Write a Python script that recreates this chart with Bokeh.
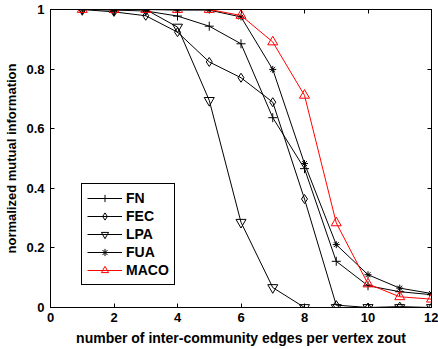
from bokeh.plotting import figure
from bokeh.models import (LinearAxis, Range1d, Legend, LegendItem, FixedTicker,
                          NumeralTickFormatter)
from bokeh.embed import file_html
from bokeh.resources import INLINE

# ---- data ----
zout = [1, 2, 3, 4, 5, 6, 7, 8, 9, 10, 11, 12]
fn   = [1.0, 0.998, 0.995, 0.978, 0.944, 0.885, 0.637, 0.466, 0.155, 0.073, 0.053, 0.043]
fec  = [1.0, 0.992, 0.979, 0.924, 0.824, 0.771, 0.689, 0.364, 0.008, 0.0, 0.003, 0.0]
lpa  = [1.0, 1.0, 1.0, 0.941, 0.695, 0.286, 0.067, 0.0, 0.0, 0.0, 0.0, 0.0]
fua  = [1.0, 1.0, 1.0, 0.998, 0.998, 0.975, 0.799, 0.483, 0.211, 0.110, 0.065, 0.047]
maco = [1.0, 1.0, 1.0, 1.0, 1.0, 0.980, 0.891, 0.712, 0.284, 0.079, 0.036, 0.028]

x_ticks = [0, 2, 4, 6, 8, 10, 12]
y_ticks = [0, 0.2, 0.4, 0.6, 0.8, 1.0]

series = [
    ("FN", fn, "cross", 9, "black"),
    ("FEC", fec, "diamond", 9, "black"),
    ("LPA", lpa, "inverted_triangle", 10, "black"),
    ("FUA", fua, "asterisk", 7, "black"),
    ("MACO", maco, "triangle", 10, "#ff0000"),
]

FONT = "Liberation Sans"

p = figure(output_backend="svg", toolbar_location=None,
           frame_width=381, frame_height=298,
           min_border_left=50, min_border_right=7,
           min_border_top=9, min_border_bottom=33,
           x_range=Range1d(0, 12), y_range=Range1d(0, 1),
           background_fill_color="white", border_fill_color="white")

p.xgrid.visible = False
p.ygrid.visible = False
p.outline_line_color = "black"
p.outline_line_width = 1
p.outline_line_alpha = 1

p.xaxis.axis_label = "number of inter-community edges per vertex zout"
p.yaxis.axis_label = "normalized mutual information"

for ax in (p.xaxis[0], p.yaxis[0]):
    ax.major_tick_in = 4
    ax.major_tick_out = 0
    ax.minor_tick_line_color = None
    ax.axis_line_color = "black"
    ax.major_tick_line_color = "black"
    ax.major_label_text_font = FONT
    ax.major_label_text_font_style = "bold"
    ax.major_label_text_font_size = "13px"
    ax.major_label_text_color = "black"
    ax.axis_label_text_font = FONT
    ax.axis_label_text_font_style = "bold"
    ax.axis_label_text_color = "black"

p.xaxis.axis_label_text_font_size = "14px"
p.yaxis.axis_label_text_font_size = "13px"
p.xaxis.ticker = FixedTicker(ticks=x_ticks)
p.yaxis.ticker = FixedTicker(ticks=y_ticks)
p.yaxis.formatter = NumeralTickFormatter(format="0.[0]")
p.xaxis.major_label_standoff = 5
p.xaxis.axis_label_standoff = 5
p.yaxis.major_label_standoff = 6
p.yaxis.axis_label_standoff = 4

# top and right tick-only axes
for loc, tick in (("above", x_ticks), ("right", y_ticks)):
    ax = LinearAxis(ticker=FixedTicker(ticks=tick))
    ax.major_tick_in = 4
    ax.major_tick_out = 0
    ax.minor_tick_line_color = None
    ax.major_label_text_font_size = "1px"
    ax.major_label_text_color = None
    ax.major_label_standoff = 0
    ax.axis_line_color = "black"
    ax.major_tick_line_color = "black"
    p.add_layout(ax, loc)

items = []
for name, ys, marker, size, color in series:
    ln = p.line(zout, ys, line_color=color, line_width=1)
    sc = p.scatter(zout, ys, marker=marker, size=size, line_color=color,
                   fill_color=None, line_width=1)
    items.append(LegendItem(label=name, renderers=[ln, sc]))

legend = Legend(items=items, location=(31, 22))
legend.border_line_color = "black"
legend.border_line_width = 1
legend.border_line_alpha = 1
legend.background_fill_color = "white"
legend.background_fill_alpha = 1
legend.label_text_font = FONT
legend.label_text_font_style = "bold"
legend.label_text_font_size = "14px"
legend.label_text_color = "black"
legend.glyph_width = 35
legend.glyph_height = 18
legend.label_height = 18
legend.label_standoff = 4
legend.spacing = 0
legend.padding = 5
legend.margin = 0
p.add_layout(legend, "center")

open("out.html", "w").write(file_html(p, INLINE))
